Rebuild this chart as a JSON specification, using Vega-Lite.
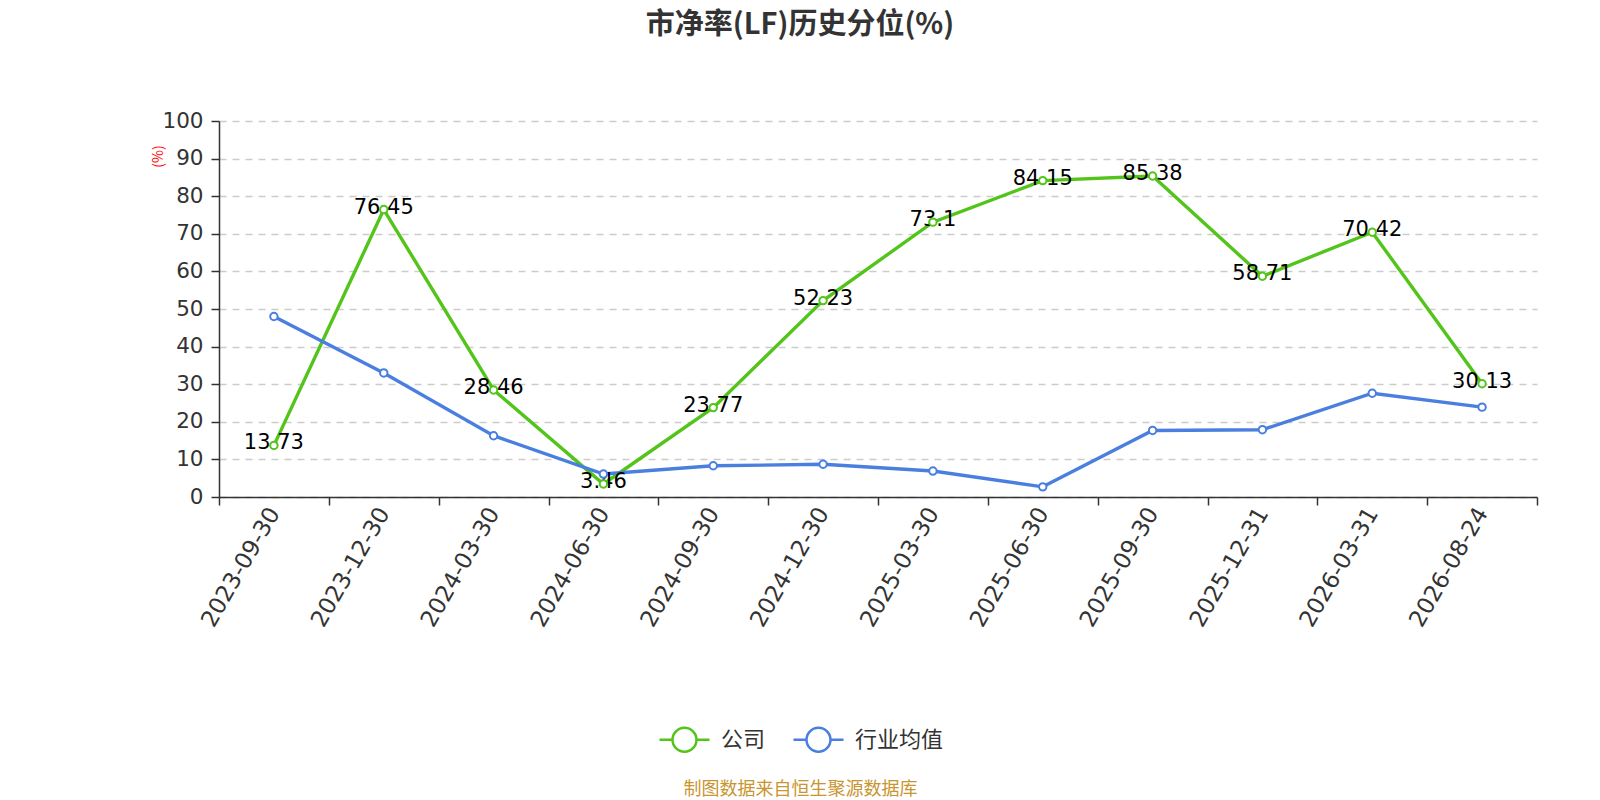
{
  "$schema": "https://vega.github.io/schema/vega-lite/v6.json",
  "width": 1318,
  "height": 376,
  "autosize": {"type": "none"},
  "padding": {"left": 219, "top": 121, "right": 63, "bottom": 303},
  "background": "white",
  "config": {"view": {"stroke": null}, "font": "DejaVu Sans"},
  "title": {"text": "市净率(LF)历史分位(%)", "fontSize": 29, "fontWeight": "bold", "color": "#333", "anchor": "middle", "dx": -78, "offset": 70, "font": "Noto Sans CJK SC"},
  "data": {"values": [
    {"date": "2023-09-30", "series": "公司", "value": 13.73},
    {"date": "2023-12-30", "series": "公司", "value": 76.45},
    {"date": "2024-03-30", "series": "公司", "value": 28.46},
    {"date": "2024-06-30", "series": "公司", "value": 3.46},
    {"date": "2024-09-30", "series": "公司", "value": 23.77},
    {"date": "2024-12-30", "series": "公司", "value": 52.23},
    {"date": "2025-03-30", "series": "公司", "value": 73.1},
    {"date": "2025-06-30", "series": "公司", "value": 84.15},
    {"date": "2025-09-30", "series": "公司", "value": 85.38},
    {"date": "2025-12-31", "series": "公司", "value": 58.71},
    {"date": "2026-03-31", "series": "公司", "value": 70.42},
    {"date": "2026-08-24", "series": "公司", "value": 30.13},
    {"date": "2023-09-30", "series": "行业均值", "value": 48.0},
    {"date": "2023-12-30", "series": "行业均值", "value": 33.0},
    {"date": "2024-03-30", "series": "行业均值", "value": 16.3},
    {"date": "2024-06-30", "series": "行业均值", "value": 6.1},
    {"date": "2024-09-30", "series": "行业均值", "value": 8.3},
    {"date": "2024-12-30", "series": "行业均值", "value": 8.7},
    {"date": "2025-03-30", "series": "行业均值", "value": 6.9},
    {"date": "2025-06-30", "series": "行业均值", "value": 2.7},
    {"date": "2025-09-30", "series": "行业均值", "value": 17.7},
    {"date": "2025-12-31", "series": "行业均值", "value": 17.9},
    {"date": "2026-03-31", "series": "行业均值", "value": 27.6},
    {"date": "2026-08-24", "series": "行业均值", "value": 23.9}
  ]},
  "encoding": {
    "x": {
      "field": "date", "type": "nominal", "sort": null, "bandPosition": 0.5,
      "scale": {"type": "band", "paddingInner": 0, "paddingOuter": 0},
      "axis": {
        "title": "制图数据来自恒生聚源数据库", "titleColor": "#c8952f", "titleFontSize": 18, "titleFontWeight": "normal", "titleFont": "Noto Sans CJK SC",
        "titleX": 581, "titleY": 292, "titleAlign": "center", "titleBaseline": "middle",
        "labelAngle": -60, "labelAlign": "right", "labelBaseline": "middle", "labelFontSize": 23, "labelColor": "#333",
        "tickBand": "extent", "tickSize": 8, "tickColor": "#333", "tickWidth": 1.5, "domainColor": "#333", "domainWidth": 1.5,
        "grid": false, "labelPadding": 4
      }
    },
    "y": {
      "field": "value", "type": "quantitative",
      "scale": {"domain": [0, 100], "nice": false},
      "axis": {
        "title": "(%)", "titleColor": "red", "titleFontSize": 14, "titleFontWeight": "normal", "titleFont": "Noto Sans CJK SC",
        "titleX": -61, "titleY": 35, "titleAngle": -90, "titleAlign": "center", "titleBaseline": "middle",
        "values": [0, 10, 20, 30, 40, 50, 60, 70, 80, 90, 100],
        "labelFontSize": 21.5, "labelColor": "#333", "labelPadding": 8,
        "domainColor": "#333", "domainWidth": 1.5, "tickColor": "#333", "tickSize": 8, "tickWidth": 1.5,
        "gridColor": "#cccccc", "gridDash": [7, 6], "gridWidth": 1.5
      }
    },
    "color": {
      "field": "series", "type": "nominal",
      "scale": {"domain": ["公司", "行业均值"], "range": ["#52c41a", "#4a7fe0"]},
      "legend": {
        "orient": "none", "legendX": 439, "legendY": 592, "direction": "horizontal", "title": null,
        "symbolType": "M-1,0H-0.48A0.48,0.48,0,1,1,0.48,0A0.48,0.48,0,1,1,-0.48,0M0.48,0H1",
        "symbolSize": 2500, "symbolStrokeWidth": 2.5, "symbolFillColor": "white",
        "labelFont": "Noto Sans CJK SC", "labelFontSize": 22, "labelColor": "#333", "labelOffset": 10, "columnPadding": 22
      }
    }
  },
  "layer": [
    {"mark": {"type": "line", "strokeWidth": 3.4}},
    {
      "transform": [{"filter": "datum.series === '公司'"}],
      "mark": {"type": "text", "fontSize": 21, "dy": -2},
      "encoding": {"text": {"field": "value", "type": "nominal"}, "color": {"value": "#000000"}}
    },
    {"mark": {"type": "point", "filled": false, "fill": "white", "size": 55, "strokeWidth": 2, "opacity": 1}}
  ]
}
